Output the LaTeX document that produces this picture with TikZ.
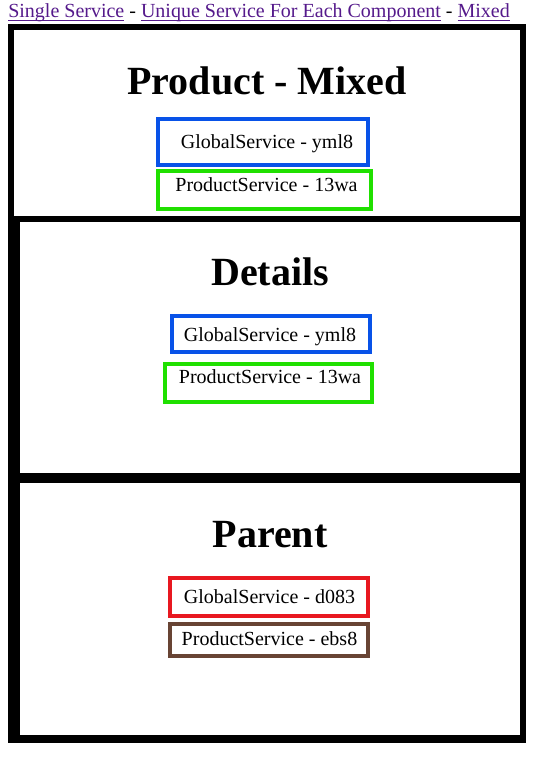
\documentclass[tikz,border=0pt]{standalone}
\usepackage{fontspec}
\setmainfont{Liberation Serif}
\definecolor{linkpurple}{HTML}{551A8B}
\definecolor{svcblue}{RGB}{8,82,232}
\definecolor{svcgreen}{RGB}{32,224,0}
\definecolor{svcred}{RGB}{232,24,32}
\definecolor{svcbrown}{RGB}{104,68,52}
\newcommand\linkul[1]{\setbox0\hbox{#1}\rlap{\rule[-2.1pt]{\wd0}{0.8pt}}\box0}
\begin{document}
\begin{tikzpicture}[x=0.75pt,y=-0.75pt,
  svcbox/.style={draw=#1, line width=3pt, inner sep=0pt, outer sep=0pt},
  svctext/.style={anchor=base, inner sep=0pt, font=\fontsize{15pt}{18pt}\selectfont},
  comptitle/.style={anchor=base, inner sep=0pt, font=\fontsize{30pt}{36pt}\selectfont\bfseries},
  ]
\useasboundingbox (0,0) rectangle (550,759);
% frames
\fill[black] (8,24) rectangle (526,743);
\fill[white] (14,30) rectangle (520,216);
\fill[white] (20,222) rectangle (520,473);
\fill[white] (20,483) rectangle (520,735);
% links
\node[anchor=base west, inner sep=0pt, font=\fontsize{15pt}{18pt}\selectfont] (links) at (8,18)
  {{\color{linkpurple}\linkul{Single Service}} - {\color{linkpurple}\linkul{Unique Service For Each Component}} - {\color{linkpurple}\linkul{Mixed}}};
% Product - Mixed
\node[comptitle] (t1) at (267,95) {Product - Mixed};
\node[svcbox=svcblue, minimum width=210*0.75pt, minimum height=46*0.75pt] (gs1) at (263,142) {};
\node[svctext] (gs1t) at (267,149) {GlobalService - yml8};
\node[svcbox=svcgreen, minimum width=213*0.75pt, minimum height=38*0.75pt] (ps1) at (264.5,190) {};
\node[svctext] (ps1t) at (266.5,192) {ProductService - 13wa};
% Details
\node[comptitle] (t2) at (270,285) {Details};
\node[svcbox=svcblue, minimum width=198*0.75pt, minimum height=36*0.75pt] (gs2) at (271,334) {};
\node[svctext] (gs2t) at (270,341) {GlobalService - yml8};
\node[svcbox=svcgreen, minimum width=207*0.75pt, minimum height=38*0.75pt] (ps2) at (268.5,383) {};
\node[svctext] (ps2t) at (270,383) {ProductService - 13wa};
% Parent
\node[comptitle] (t3) at (270,547) {Parent};
\node[svcbox=svcred, minimum width=198*0.75pt, minimum height=38*0.75pt] (gs3) at (269,597) {};
\node[svctext] (gs3t) at (269.5,603) {GlobalService - d083};
\node[svcbox=svcbrown, minimum width=198*0.75pt, minimum height=32*0.75pt] (ps3) at (269,640) {};
\node[svctext] (ps3t) at (269.5,645) {ProductService - ebs8};
\end{tikzpicture}
\end{document}
